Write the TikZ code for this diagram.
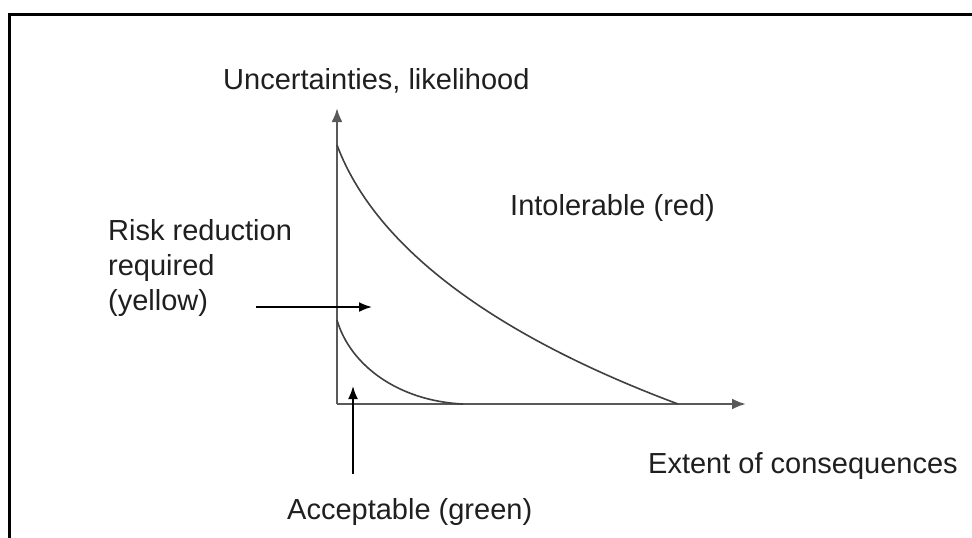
\documentclass[tikz,border=0pt]{standalone}
\usepackage{fontspec}
\setmainfont{Liberation Sans}
\usetikzlibrary{arrows.meta}
\begin{document}
\begin{tikzpicture}[x=1pt,y=-1pt,
  lbl/.style={anchor=base west,inner sep=0pt,font=\fontsize{29}{35}\selectfont,text=black!88},
  axisline/.style={draw=black!65,line width=2.6pt,-{Latex[length=14pt,width=11pt]}},
  curveline/.style={draw=black!75,line width=1.6pt},
  pointer/.style={draw=black,line width=1.8pt,-{Latex[length=13pt,width=10pt]}},
  framestyle/.style={draw=black,line width=3pt}]
\useasboundingbox (0,0) rectangle (972,538);
\fill[white] (0,0) rectangle (972,538);
\draw[framestyle] (9,538) -- (9,14) -- (972,14);
% axes
\coordinate (O) at (337,404);
\coordinate (ytip) at (337,108);
\coordinate (xtip) at (746,404);
\draw[axisline] (O) -- (ytip);
\draw[axisline] (O) -- (xtip);
% curves
\coordinate (c1s) at (337,145);
\coordinate (c1e) at (678,404);
\coordinate (c2s) at (337,320);
\coordinate (c2e) at (463,404);
\draw[curveline] (c1s) .. controls (380,260) and (520,345) .. (c1e);
\draw[curveline] (c2s) .. controls (350,365) and (398,401) .. (c2e);
% labels
\node[lbl] (unc) at (223,89) {Uncertainties, likelihood};
\node[lbl] (intol) at (510,215) {Intolerable (red)};
\node[lbl] (risk1) at (108,240) {Risk reduction};
\node[lbl] (risk2) at (108,275) {required};
\node[lbl] (risk3) at (108,310) {(yellow)};
\node[lbl] (ext) at (648,473) {Extent of consequences};
\node[lbl] (acc) at (287,519) {Acceptable (green)};
% pointers
\coordinate (rs) at (256,307);
\coordinate (re) at (372,307);
\draw[pointer] (rs) -- (re);
\coordinate (as) at (353,474);
\coordinate (ae) at (353,386);
\draw[pointer] (as) -- (ae);
\end{tikzpicture}
\end{document}
